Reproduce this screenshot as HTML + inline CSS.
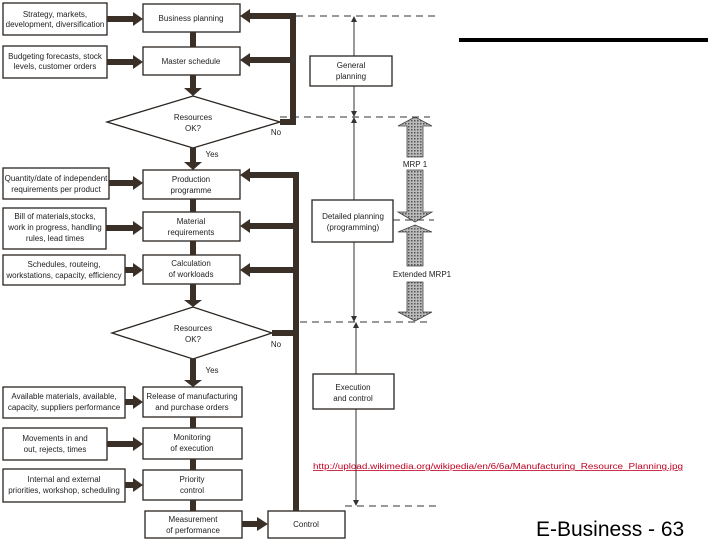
<!DOCTYPE html>
<html><head><style>body{margin:0;background:#fff}svg{display:block}text{font-family:"Liberation Sans",sans-serif}</style></head><body>
<svg width="720" height="540" viewBox="0 0 720 540" xmlns="http://www.w3.org/2000/svg">
<defs>
<marker id="ah" markerWidth="6" markerHeight="6" refX="5" refY="3" orient="auto-start-reverse"><path d="M0,0 L6,3 L0,6 z" fill="#333"/></marker>
<pattern id="dots" width="3" height="3" patternUnits="userSpaceOnUse"><rect width="3" height="3" fill="#bbb"/><rect width="1.5" height="1.5" fill="#555"/></pattern>
</defs>
<g stroke="#333" stroke-width="1" fill="none" marker-end="url(#ah)" marker-start="url(#ah)">
<path d="M354 17V116"/><path d="M354 118V321"/><path d="M356 323V505"/>
</g>
<g fill="#fff" stroke="#2a2420" stroke-width="1.3">
<rect x="3" y="3" width="104" height="32"/><rect x="3" y="46" width="104" height="32"/>
<rect x="3" y="168" width="106" height="31"/><rect x="3" y="208" width="103" height="41"/>
<rect x="3" y="255" width="122" height="30"/><rect x="3" y="387" width="122" height="31"/>
<rect x="3" y="428" width="104" height="32"/><rect x="3" y="469" width="122" height="33"/>
<rect x="143" y="4" width="97" height="28"/><rect x="143" y="47" width="97" height="28"/>
<rect x="143" y="170" width="97" height="29"/><rect x="143" y="212" width="97" height="29"/>
<rect x="143" y="255" width="97" height="29"/><rect x="143" y="387" width="99" height="30"/>
<rect x="143" y="428" width="99" height="31"/><rect x="143" y="470" width="99" height="30"/>
<rect x="145" y="511" width="97" height="27"/><rect x="268" y="511" width="77" height="27"/>
<rect x="310" y="56" width="82" height="30"/><rect x="312" y="200" width="81" height="42"/><rect x="313" y="374" width="81" height="35"/>
<polygon points="107,122 193,96 280,122 193,148"/><polygon points="112,333 193,307 272,333 193,359"/>
</g>
<g stroke="#3a3028" stroke-width="6" fill="none">
<path d="M193 32V47M193 75V88M193 148V162M193 241V255M193 199V212M193 284V300M193 359V380M193 417V428M193 459V470M193 500V511"/>
<path d="M280 122H293V16H248M293 60H248M272 333H296V175H248M296 226H248M296 270H248M296 333V511"/>
<path d="M107 19H134M107 62H134M109 183H134M106 228H134M125 270H134M125 402H134M107 444H134M125 485H134M242 524H258"/>
</g>
<g fill="#3a3028">
<polygon points="184,88 202,88 193,96"/><polygon points="184,162 202,162 193,170"/><polygon points="184,300 202,300 193,307"/><polygon points="184,380 202,380 193,387"/>
<polygon points="133,12 143,19 133,26"/><polygon points="133,55 143,62 133,69"/><polygon points="133,176 143,183 133,190"/><polygon points="133,221 143,228 133,235"/><polygon points="133,263 143,270 133,277"/><polygon points="133,395 143,402 133,409"/><polygon points="133,437 143,444 133,451"/><polygon points="133,478 143,485 133,492"/><polygon points="257,517 268,524 257,531"/>
<polygon points="250,9 240,16 250,23"/><polygon points="250,53 240,60 250,67"/><polygon points="250,168 240,175 250,182"/><polygon points="250,219 240,226 250,233"/><polygon points="250,263 240,270 250,277"/>
</g>
<g stroke="#333" stroke-width="1" stroke-dasharray="7,5" fill="none">
<path d="M296 16H438M280 117H430M300 322H430M345 506H438M393 220H434"/>
</g>
<g fill="url(#dots)" stroke="#444" stroke-width="0.8">
<polygon points="415,117 432,126 423,126 423,157 407,157 407,126 398,126"/>
<polygon points="407,170 423,170 423,212 432,212 415,222 398,212 407,212"/>
<polygon points="415,225 432,232 423,232 423,266 407,266 407,232 398,232"/>
<polygon points="407,282 423,282 423,312 432,312 415,321 398,312 407,312"/>
</g>
<g font-size="8" text-anchor="middle" fill="#222">
<text x="55" y="17">Strategy, markets,</text><text x="55" y="27">development, diversification</text>
<text x="55" y="59">Budgeting forecasts, stock</text><text x="55" y="69">levels, customer orders</text>
<text x="56" y="181">Quantity/date of independent</text><text x="56" y="192">requirements per product</text>
<text x="55" y="219">Bill of materials,stocks,</text><text x="55" y="230">work in progress, handling</text><text x="55" y="241">rules, lead times</text>
<text x="64" y="267">Schedules, routeing,</text><text x="64" y="278">workstations, capacity, efficiency</text>
<text x="64" y="399">Available materials, available,</text><text x="64" y="410">capacity, suppliers performance</text>
<text x="55" y="441">Movements in and</text><text x="55" y="452">out, rejects, times</text>
<text x="64" y="482">Internal and external</text><text x="64" y="493">priorities, workshop, scheduling</text>
<text x="191" y="21">Business planning</text><text x="191" y="64">Master schedule</text>
<text x="193" y="120">Resources</text><text x="193" y="131">OK?</text>
<text x="191" y="182">Production</text><text x="191" y="193">programme</text>
<text x="191" y="224">Material</text><text x="191" y="235">requirements</text>
<text x="191" y="266">Calculation</text><text x="191" y="277">of workloads</text>
<text x="193" y="331">Resources</text><text x="193" y="342">OK?</text>
<text x="192" y="399">Release of manufacturing</text><text x="192" y="410">and purchase orders</text>
<text x="192" y="440">Monitoring</text><text x="192" y="451">of execution</text>
<text x="192" y="482">Priority</text><text x="192" y="493">control</text>
<text x="193" y="522">Measurement</text><text x="193" y="533">of performance</text>
<text x="306" y="527">Control</text>
<text x="351" y="68">General</text><text x="351" y="79">planning</text>
<text x="353" y="219">Detailed planning</text><text x="353" y="230">(programming)</text>
<text x="353" y="390">Execution</text><text x="353" y="401">and control</text>
<text x="415" y="167">MRP 1</text><text x="422" y="277">Extended MRP1</text>
<text x="276" y="135">No</text><text x="276" y="347">No</text><text x="212" y="157">Yes</text><text x="212" y="373">Yes</text>
</g>
<rect x="459" y="38" width="249" height="4" fill="#000"/>
<text x="313" y="469" font-size="8" fill="#c00020" text-decoration="underline" textLength="370" lengthAdjust="spacingAndGlyphs">http://upload.wikimedia.org/wikipedia/en/6/6a/Manufacturing_Resource_Planning.jpg</text>
<text x="536" y="536" font-size="21" fill="#000">E-Business - 63</text>
</svg>
</body></html>
